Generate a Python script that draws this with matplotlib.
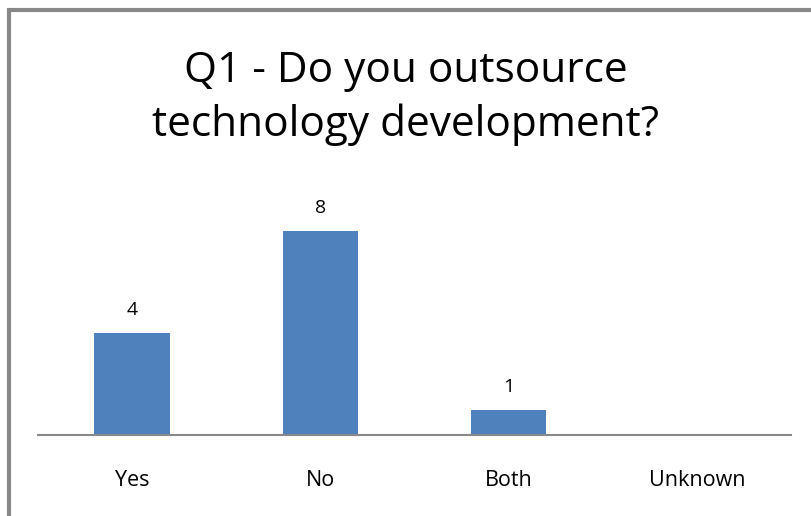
import matplotlib
matplotlib.use("Agg")
import matplotlib.pyplot as plt
from matplotlib.patches import Rectangle

categories = ["Yes", "No", "Both", "Unknown"]
counts = [4, 8, 1, 0]
value_labels = ["4", "8", "1", ""]
title = "Q1 - Do you outsource\ntechnology development?"

W, H = 811, 516
fig = plt.figure(figsize=(W / 100, H / 100), dpi=100)
plt.rcParams["font.family"] = ["Open Sans", "DejaVu Sans"]

# chart frame (grey outline, only top and left edges fall inside the image)
fig.patches.append(Rectangle((8.5 / W, -0.1), 1.2, 1.1 - 9.5 / H, transform=fig.transFigure,
                             fill=False, edgecolor="#888888", linewidth=3, clip_on=False))

ax = fig.add_axes([37.75 / W, (H - 435) / H, (791.25 - 37.75) / W, 255 / H])
x = list(range(len(categories)))
bars = ax.bar(x, counts, width=0.4, color="#4F81BD", zorder=2)
ax.set_xlim(-0.5, 3.5)
ax.set_ylim(0, 10)

for xi, v, lbl in zip(x, counts, value_labels):
    if lbl:
        ax.annotate(lbl, (xi, v), xytext=(0, 23), textcoords="offset pixels",
                    ha="center", va="center", fontsize=14, color="black")

for s in ["top", "right", "left"]:
    ax.spines[s].set_visible(False)
ax.spines["bottom"].set_color("#888888")
ax.spines["bottom"].set_linewidth(1.5)
ax.set_yticks([])
ax.set_xticks(x)
ax.set_xticklabels(categories, fontsize=15.5)
ax.tick_params(axis="x", length=0, pad=25)

fig.text(0.5, 1 - 98 / H, title, ha="center", va="center", fontsize=30.5,
         linespacing=1.35, color="black")

fig.savefig("out.png", dpi=100)
